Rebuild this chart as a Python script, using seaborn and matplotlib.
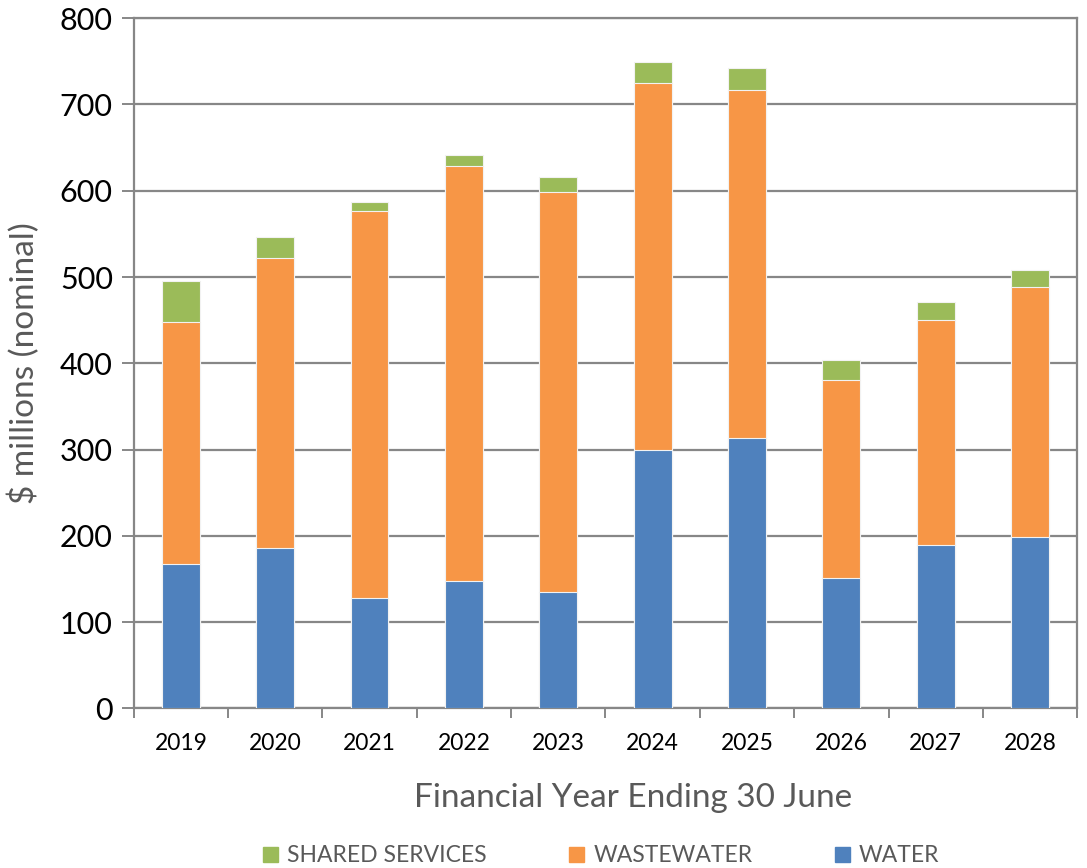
import numpy as np
import pandas as pd
import matplotlib.pyplot as plt
import matplotlib.patches as mpatches
import seaborn as sns

# data ($ millions, nominal)
years = ['2019', '2020', '2021', '2022', '2023', '2024', '2025', '2026', '2027', '2028']
water = [167, 186, 128, 148, 135, 299, 313, 151, 189, 198]
wastewater = [281, 336, 448, 481, 463, 426, 404, 230, 261, 290]
shared = [47, 24, 11, 13, 18, 24, 25, 23, 21, 20]

c_water = '#4F81BD'
c_ww = '#F79646'
c_shared = '#9BBB59'
grey = '#878787'
txt_grey = '#595959'

sns.set_style('white')
plt.rcParams['font.family'] = ['Lato', 'DejaVu Sans']

df = pd.DataFrame({'year': years, 'water': water, 'wastewater': wastewater, 'shared': shared})
df['ww_top'] = df['water'] + df['wastewater']
df['total'] = df['ww_top'] + df['shared']

fig = plt.figure(figsize=(10.87, 8.68), dpi=100)
ax = fig.add_axes([0.123, 0.184, 0.868, 0.795])

# stacked by overdrawing cumulative totals
sns.barplot(data=df, x='year', y='total', color=c_shared, saturation=1, width=0.4,
            edgecolor='#f2f2f2', linewidth=0.8, ax=ax, zorder=3)
sns.barplot(data=df, x='year', y='ww_top', color=c_ww, saturation=1, width=0.4,
            edgecolor='#f2f2f2', linewidth=0.8, ax=ax, zorder=3)
sns.barplot(data=df, x='year', y='water', color=c_water, saturation=1, width=0.4,
            edgecolor='#f2f2f2', linewidth=0.8, ax=ax, zorder=3)

ax.set_xlim(-0.5, 9.5)
ax.set_ylim(0, 800)
ax.set_yticks(np.arange(0, 801, 100))
ax.yaxis.grid(True, color=grey, linewidth=1.6, zorder=0)
ax.set_axisbelow(True)

for s in ax.spines.values():
    s.set_visible(True)
    s.set_color(grey)
    s.set_linewidth(1.6)

ax.set_xticks(np.arange(-0.5, 10, 1), minor=True)
ax.tick_params(axis='x', which='major', length=0, labelsize=16.5, pad=18, labelcolor='black')
ax.tick_params(axis='x', which='minor', length=7, width=1.4, color=grey, direction='out')
ax.tick_params(axis='y', length=9, width=1.4, color=grey, labelsize=22, pad=6, labelcolor='black')
ax.tick_params(axis='x', bottom=True, which='both')
ax.tick_params(axis='y', left=True)

ax.set_xlabel('Financial Year Ending 30 June', fontsize=24, color=txt_grey)
ax.xaxis.set_label_coords(0.529, -0.108)
ax.set_ylabel('$ millions (nominal)', fontsize=24, color=txt_grey, labelpad=14)

handles = [mpatches.Patch(color=c_shared, label='SHARED SERVICES'),
           mpatches.Patch(color=c_ww, label='WASTEWATER'),
           mpatches.Patch(color=c_water, label='WATER')]
fig.legend(handles=handles, loc='lower center', bbox_to_anchor=(0.553, -0.022), ncol=3,
           frameon=False, fontsize=16.5, labelcolor=txt_grey, columnspacing=3.6,
           handlelength=0.65, handleheight=0.65, handletextpad=0.4)

plt.savefig('out.png', dpi=100)
